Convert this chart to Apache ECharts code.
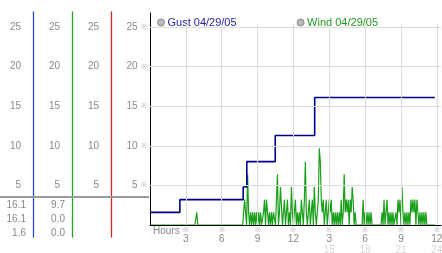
<!DOCTYPE html>
<html><head><meta charset="utf-8">
<script src="https://cdn.jsdelivr.net/npm/echarts@6/dist/echarts.min.js"></script>
<style>html,body{margin:0;padding:0;background:#fff}#c{width:442px;height:253px}</style>
</head><body><div id="c"></div>
<script>
// ---------- data ----------
const gustName = 'Gust 04/29/05';
const windName = 'Wind 04/29/05';
const gustTimes  = [0, 2.5, 7.8, 8.1, 10.48, 13.78, 23.83];
const gustValues = [1.6, 3.2, 4.8, 8.0, 11.3, 16.1, 16.1];
const windSampleHours = 1 / 12; // 5-minute samples from 00:00
const windValues = [
  0,0,0,0,0,0,0,0,0,0,0,0,                 // 0h
  0,0,0,0,0,0,0,0,0,0,0,0,                 // 1h
  0,0,0,0,0,0,0,0,0,0,0,0,                 // 2h
  0,0,0,0,0,0,0,0,0,0,0,1.6,               // 3h
  0,0,0,0,0,0,0,0,0,0,0,0,                 // 4h
  0,0,0,0,0,0,0,0,0,0,0,0,                 // 5h
  0,0,0,0,0,0,0,0,0,0,0,0,                 // 6h
  0,0,0,0,0,0,0,0,0,0,1.6,3.2,             // 7h
  1.6,0,6.4,1.6,0,1.6,0,1.6,0,1.6,0,1.6,   // 8h
  0,1.6,0,1.6,0,0,1.6,3.2,0,3.2,1.6,0,     // 9h
  1.6,0,1.6,0,1.6,1.6,0,3.2,6.4,0,1.6,4.8, // 10h
  4.8,0,1.6,3.2,0,1.6,3.2,0,1.6,0,4.8,1.6, // 11h
  0,1.6,3.2,0,1.6,0,1.6,0,3.2,1.6,0,3.2,   // 12h
  8.0,1.6,0,1.6,3.2,0,1.6,3.2,0,4.8,1.6,0, // 13h
  1.6,3.2,9.7,8.0,3.2,1.6,3.2,0,1.6,3.2,0,1.6, // 14h
  3.2,1.6,3.2,0,1.6,0,1.6,0,1.6,0,1.6,0,   // 15h
  3.2,0,1.6,6.4,1.6,3.2,1.6,3.2,0,3.2,1.6,4.8, // 16h
  3.2,0,1.6,0,0,0,0,0,0,0,3.2,0,           // 17h
  1.6,0,1.6,0,1.6,0,1.6,0,0,0,0,0,         // 18h
  0,0,0,0,0,1.6,0,3.2,0,1.6,3.2,0,         // 19h
  1.6,0,1.6,0,1.6,0,0,1.6,0,3.2,1.6,3.2,   // 20h
  0,4.8,1.6,0,1.6,0,1.6,0,1.6,0,3.2,1.6,   // 21h
  3.2,1.6,3.2,0,3.2,1.6,0,1.6,0,1.6,0,1.6, // 22h
  0,1.6,0,0,0,0,0,0,0,0,0                  // 23h
];
const yTicks = [5, 10, 15, 20, 25];
const xTicks = [3, 6, 9, 12, 15, 18, 21, 24];
const xTickTop = ['3', '6', '9', '12', '3', '6', '9', '12'];
const xTickBottom = ['', '', '', '', '15', '18', '21', '24'];

// ---------- derived ----------
const gustData = gustTimes.map((t, i) => [t, gustValues[i]]);
const windData = windValues.map((v, i) => [i * windSampleHours, v]);
const stat = arr => [Math.max(...arr), arr[arr.length - 1], Math.min(...arr)].map(v => v.toFixed(1));
const gustStats = stat(gustValues);
const windStats = stat(windValues);

const FONT = 'Liberation Sans';
const isTick = v => Math.abs(v - Math.round(v / 5) * 5) < 1e-6 && v >= 4.99 && v <= 25.01;
const X_MAX = 24.35, Y_MAX = 26.77;

const leftAxis = (offset, color) => ({
  gridIndex: 1, type: 'value', position: 'left', offset: offset,
  min: -1.515, max: 26.89, splitNumber: 5,
  axisLine: { show: true, onZero: false, lineStyle: { color: color, width: 1.3 } },
  axisTick: { show: false }, splitLine: { show: false },
  axisLabel: { margin: 12, color: '#8a8a8a', fontFamily: FONT, fontSize: 10,
    showMinLabel: false, showMaxLabel: false,
    formatter: v => isTick(v) ? String(Math.round(v)) : '' }
});

const chart = echarts.init(document.getElementById('c'), null, { renderer: 'canvas' });
chart.setOption({
  animation: false,
  backgroundColor: '#fff',
  legend: {
    left: 152, top: 12, itemWidth: 7, itemHeight: 7, itemGap: 60, icon: 'circle',
    textStyle: { fontFamily: FONT, fontSize: 11, padding: [0, 0, 0, -2] },
    data: [
      { name: gustName, itemStyle: { color: '#bbb', borderColor: '#888', borderWidth: 1 }, textStyle: { color: '#2424a8' } },
      { name: windName, itemStyle: { color: '#bbb', borderColor: '#888', borderWidth: 1 }, textStyle: { color: '#1f9a1f' } }
    ]
  },
  grid: [
    { left: 150, right: 1, top: 13, bottom: 28, outerBoundsMode: 'none' },
    { left: 111, right: 293, top: 12, bottom: 16, outerBoundsMode: 'none' }
  ],
  xAxis: [
    { gridIndex: 0, type: 'value', min: 0, max: X_MAX, interval: 3, z: 3,
      axisLine: { show: true, lineStyle: { color: '#000', width: 1 } },
      axisTick: { show: false }, splitLine: { show: false },
      axisLabel: { margin: 2, showMinLabel: false, showMaxLabel: false,
        formatter: v => { const i = xTicks.indexOf(v); if (i < 0) return '';
          return '{s|※}\n{a|' + xTickTop[i] + '}' + (xTickBottom[i] ? '\n{b|' + xTickBottom[i] + '}' : ''); },
        rich: {
          s: { fontSize: 7, color: '#aaa', lineHeight: 7, align: 'center' },
          a: { fontSize: 10, color: '#888', fontFamily: FONT, lineHeight: 11, align: 'center' },
          b: { fontSize: 10, color: '#d8d8d8', fontFamily: FONT, lineHeight: 10, align: 'center' }
        } } },
    { gridIndex: 1, type: 'value', show: false, min: 0, max: 1 }
  ],
  yAxis: [
    { gridIndex: 0, type: 'value', min: 0, max: Y_MAX, interval: 5, z: 3,
      axisLine: { show: true, lineStyle: { color: '#000', width: 1 } },
      axisTick: { show: false }, splitLine: { show: false },
      axisLabel: { margin: 3, showMinLabel: false, showMaxLabel: false,
        formatter: v => isTick(v) ? '{v|' + Math.round(v) + '} {s|※}' : '',
        rich: {
          v: { fontSize: 10, color: '#8a8a8a', fontFamily: FONT },
          s: { fontSize: 7, color: '#aaa' }
        } } },
    leftAxis(0, '#cc2a2a'),
    leftAxis(39, '#22a822'),
    leftAxis(78, '#2a4ad0')
  ],
  series: [
    { name: 'grid', type: 'line', data: [], z: 1, silent: true, xAxisIndex: 0, yAxisIndex: 0,
      markLine: { symbol: 'none', silent: true, animation: false, label: { show: false },
        lineStyle: { color: '#dcdcdc', width: 1, type: 'solid' },
        data: [
          ...yTicks.map(v => [{ coord: [0, v] }, { coord: [X_MAX, v] }]),
          ...xTicks.map(h => [{ coord: [h, 25.35] }, { coord: [h, 0] }])
        ] } },
    { name: windName, type: 'line', data: windData, xAxisIndex: 0, yAxisIndex: 0,
      symbol: 'none', z: 2, lineStyle: { color: '#1aa01a', width: 1.2 }, itemStyle: { color: '#1aa01a' } },
    { name: gustName, type: 'line', step: 'end', data: gustData, xAxisIndex: 0, yAxisIndex: 0,
      symbol: 'none', z: 2, lineStyle: { color: '#00008a', width: 1.6 }, itemStyle: { color: '#00008a' } }
  ],
  graphic: [
    { type: 'rect', shape: { x: 0, y: 196, width: 149, height: 2 }, style: { fill: '#9a9a9a' }, z: 10 },
    { type: 'text', left: 153, top: 226, style: { text: 'Hours', fill: '#888', font: '10px "Liberation Sans"' } },
    ...[0, 1, 2].map(i => ({ type: 'text', x: 26, y: 205 + i * 14,
      style: { text: gustStats[i], fill: '#888', font: '10px "Liberation Sans"', align: 'right', verticalAlign: 'middle' } })),
    ...[0, 1, 2].map(i => ({ type: 'text', x: 65, y: 205 + i * 14,
      style: { text: windStats[i], fill: '#888', font: '10px "Liberation Sans"', align: 'right', verticalAlign: 'middle' } }))
  ]
});
</script></body></html>
